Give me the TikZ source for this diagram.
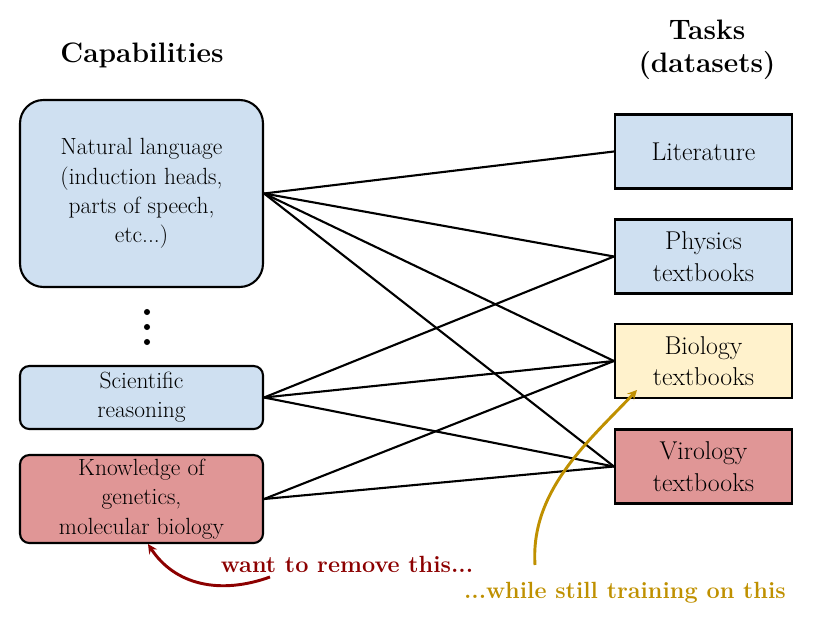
\documentclass[tikz,border=0pt]{standalone}
\usetikzlibrary{positioning}
\definecolor{capblue}{RGB}{207,224,241}
\definecolor{genred}{RGB}{224,150,150}
\definecolor{bioyellow}{RGB}{255,242,204}
\definecolor{darkred}{RGB}{140,0,0}
\definecolor{golden}{RGB}{191,144,0}
\begin{document}
\begin{tikzpicture}[x=0.03cm,y=-0.03cm,line width=1.8pt]
\tikzstyle{capbox} = [draw, rounded corners=8pt, minimum width=243*0.03cm, align=center, font=\fontsize{20}{25}\selectfont] % capability box
\tikzstyle{taskbox} = [draw, minimum width=177*0.03cm, minimum height=74*0.03cm, align=center, font=\fontsize{22}{27}\selectfont] % task box
\tikzstyle{header} = [font=\fontsize{24}{28}\selectfont\bfseries, align=center]
\useasboundingbox (0,0) rectangle (818,621);

\node[header] (caps) at (142,55) {Capabilities};
\node[header] (tasks) at (707,50) {Tasks\\(datasets)};

% capabilities
\node[capbox, fill=capblue, rounded corners=20pt, minimum height=187*0.03cm] (nat) at (141.5,193.5) {Natural language\\(induction heads,\\parts of speech,\\etc...)};
\node[capbox, fill=capblue, minimum height=63*0.03cm] (sci) at (141.5,397.5) {Scientific\\reasoning};
\node[capbox, fill=genred, minimum height=88*0.03cm] (gen) at (141.5,499) {Knowledge of\\genetics,\\molecular biology};
\foreach \y in {312,327,342} \fill (147,\y) circle (2.6pt);

% tasks
\node[taskbox, fill=capblue] (lit) at (703.5,151.5) {Literature};
\node[taskbox, fill=capblue] (phy) at (703.5,256.5) {Physics\\textbooks};
\node[taskbox, fill=bioyellow] (bio) at (703.5,361) {Biology\\textbooks};
\node[taskbox, fill=genred] (vir) at (703.5,466.5) {Virology\\textbooks};

% links
\foreach \t in {lit,phy,bio,vir} \draw (nat.east) -- (\t.west);
\foreach \t in {phy,bio,vir} \draw (sci.east) -- (\t.west);
\foreach \t in {bio,vir} \draw (gen.east) -- (\t.west);

% notes
\node[text=darkred, font=\fontsize{20}{24}\selectfont\bfseries] (rem) at (347,564) {want to remove this...};
\node[text=golden, font=\fontsize{20}{24}\selectfont\bfseries] (keep) at (625,593) {...while still training on this};
\coordinate (remstart) at (270,577);
\coordinate (keepstart) at (535,565);
\draw[darkred, line width=2.5pt, -stealth] (remstart) .. controls (220,595) and (175,585) .. (gen.south -| 148,0);
\draw[golden, line width=2.5pt, -stealth] (keepstart) .. controls (530,490) and (590,440) .. (637,390);
\end{tikzpicture}
\end{document}
